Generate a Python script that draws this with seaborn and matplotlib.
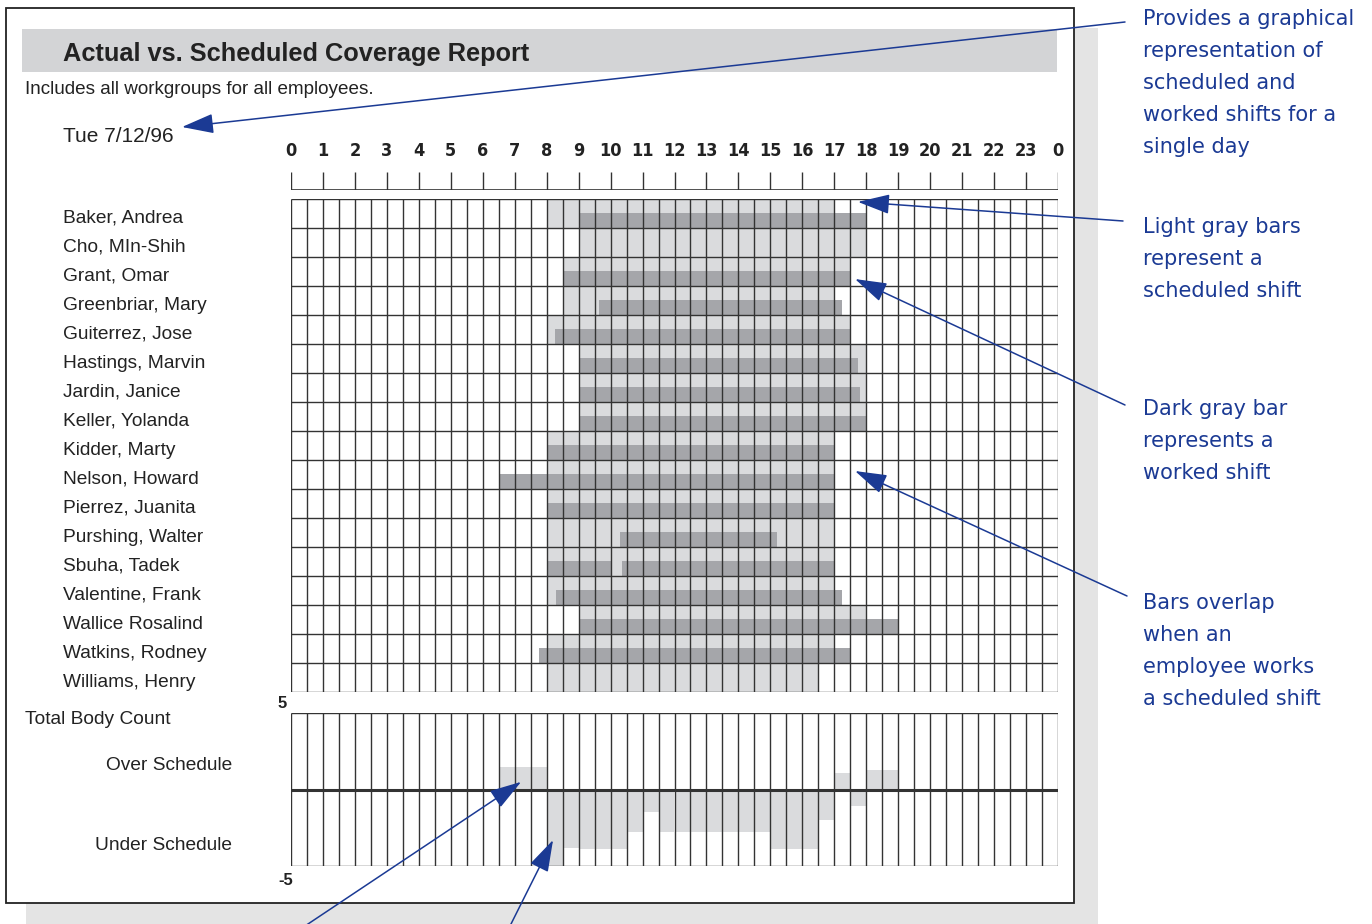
import matplotlib
matplotlib.use('Agg')
import matplotlib.pyplot as plt
import matplotlib.transforms as mtransforms
from matplotlib.patches import Rectangle
from matplotlib import font_manager
import numpy as np
import pandas as pd
import seaborn as sns

# ---- data ----
employees = ['Baker, Andrea', 'Cho, MIn-Shih', 'Grant, Omar', 'Greenbriar, Mary',
             'Guiterrez, Jose', 'Hastings, Marvin', 'Jardin, Janice', 'Keller, Yolanda',
             'Kidder, Marty', 'Nelson, Howard', 'Pierrez, Juanita', 'Purshing, Walter',
             'Sbuha, Tadek', 'Valentine, Frank', 'Wallice Rosalind', 'Watkins, Rodney',
             'Williams, Henry']

# scheduled shift (light gray), hours of the day
sched_start = [8.0, 9.0, 8.5, 8.5, 8.0, 9.0, 9.0, 9.0, 8.0, 8.0, 8.0, 8.0, 8.0, 8.0, 9.0, 8.0, 8.0]
sched_end = [17.0, 18.0, 17.5, 17.0, 17.5, 18.0, 18.0, 18.0, 17.0, 17.0, 17.0, 17.0, 17.0, 17.0, 18.0, 17.0, 16.5]

# worked shifts (dark gray), may be none or several per employee
worked_shifts = [
    [(9.0, 18.0)],
    [],
    [(8.5, 17.5)],
    [(9.65, 17.25)],
    [(8.25, 17.5)],
    [(9.0, 17.75)],
    [(9.0, 17.8)],
    [(9.0, 18.0)],
    [(8.0, 17.0)],
    [(6.5, 17.0)],
    [(8.0, 17.0)],
    [(10.3, 15.2)],
    [(8.0, 10.0), (10.35, 17.0)],
    [(8.3, 17.25)],
    [(9.0, 19.0)],
    [(7.75, 17.5)],
    [],
]

# total body count, one value per half hour from 0:00
body_count = [0, 0, 0, 0, 0, 0, 0, 0, 0, 0, 0, 0, 0,
              1.5, 1.5, 1.5,
              -5.0, -3.8, -3.9, -3.9, -3.9, -2.8, -1.5,
              -2.8, -2.8, -2.8, -2.8, -2.8, -2.8, -2.8,
              -3.9, -3.9, -3.9,
              -2.0, 1.1, -1.1, 1.25, 1.25,
              0, 0, 0, 0, 0, 0, 0, 0, 0, 0]

hour_labels = [str(h) for h in range(24)] + ['0']

# ---- style ----
W, H = 1372, 924
LIGHT = '#dadbdd'
DARK = '#a5a6aa'
GRID = '#333333'
BLUE = '#1b3a94'
INK = '#222222'

sns.set_style('white')
plt.rcParams['font.family'] = ['Liberation Sans', 'DejaVu Sans']

# narrow bold face for the hour row, if one is around
fonts = font_manager.fontManager.ttflist
if any(f.name == 'Liberation Sans Narrow' for f in fonts):
    hour_font = dict(family='Liberation Sans Narrow', size=14)
elif any(f.name == 'DejaVu Sans' and f.stretch == 'condensed' for f in fonts):
    hour_font = dict(family='DejaVu Sans', stretch='condensed', size=13)
else:
    hour_font = dict(family='Liberation Sans', size=12.5)


def box(x0, y0, x1, y1):
    return [x0 / W, 1 - y1 / H, (x1 - x0) / W, (y1 - y0) / H]


fig = plt.figure(figsize=(W / 100, H / 100), dpi=100)

# page background, shadow, title band
bg = fig.add_axes([0, 0, 1, 1], zorder=0)
bg.set_xlim(0, W)
bg.set_ylim(H, 0)
bg.axis('off')
bg.add_patch(Rectangle((26, 28), 1072, 900, color='#e4e4e4', lw=0))
bg.add_patch(Rectangle((6, 8), 1068, 895, facecolor='white', edgecolor=INK, lw=1.3))
bg.add_patch(Rectangle((22, 29), 1035, 43, color='#d3d4d6', lw=0))
bg.text(63, 54, 'Actual vs. Scheduled Coverage Report', fontsize=18.3, fontweight='bold',
        color=INK, va='center', ha='left')
bg.text(25, 90, 'Includes all workgroups for all employees.', fontsize=13.6,
        color=INK, va='center', ha='left')
bg.text(63, 137, 'Tue 7/12/96', fontsize=15, color=INK, va='center', ha='left')
bg.text(25, 720, 'Total Body Count', fontsize=13.8, color=INK, va='center', ha='left')
bg.text(232, 766, 'Over Schedule', fontsize=13.8, color=INK, va='center', ha='right')
bg.text(232, 846, 'Under Schedule', fontsize=13.8, color=INK, va='center', ha='right')

# hour header
hdr = fig.add_axes(box(291, 172, 1058, 190), zorder=1)
hdr.set_xlim(0, 24)
hdr.set_ylim(0, 1)
hdr.vlines(range(25), 0, 1, color=GRID, lw=1.0)
hdr.axhline(0, color=GRID, lw=1.2)
for s in hdr.spines.values():
    s.set_visible(False)
hdr.xaxis.tick_top()
hdr.set_xticks(range(25), labels=hour_labels)
hdr.tick_params(axis='x', length=0, pad=9)
hdr.set_yticks([])
for lab in hdr.get_xticklabels():
    lab.set_fontfamily([hour_font['family'], 'DejaVu Sans'])
    if 'stretch' in hour_font:
        lab.set_fontstretch(hour_font['stretch'])
    lab.set_fontweight('bold')
    lab.set_fontsize(hour_font['size'])
    lab.set_color(INK)

# schedule grid
ax = fig.add_axes(box(291, 199, 1058, 692), zorder=1)
n = len(employees)
for i in range(n):
    ax.barh(i, sched_end[i] - sched_start[i], left=sched_start[i], height=1.0,
            color=LIGHT, lw=0, zorder=1)
    for s, e in worked_shifts[i]:
        ax.barh(i + 0.24, e - s, left=s, height=0.5, color=DARK, lw=0, zorder=2)
ax.vlines(np.arange(0, 24.01, 0.5), -0.5, n - 0.5, color=GRID, lw=1.0, zorder=3)
ax.hlines(np.arange(-0.5, n, 1.0), 0, 24, color=GRID, lw=1.0, zorder=3)
ax.set_xlim(0, 24)
ax.set_ylim(n - 0.5, -0.5)
ax.axis('off')

name_tf = mtransforms.blended_transform_factory(fig.transFigure, ax.transData)
for i, name in enumerate(employees):
    ax.text(63 / W, i + 0.16, name, transform=name_tf, fontsize=13.8, color=INK,
            va='center', ha='left')

# total body count
bc = fig.add_axes(box(291, 713, 1058, 866), zorder=1)
df = pd.DataFrame({'hour': np.arange(0.25, 24, 0.5), 'count': body_count})
sns.barplot(data=df, x='hour', y='count', native_scale=True, width=1.0, color=LIGHT,
            saturation=1, linewidth=0, errorbar=None, ax=bc, zorder=1)
bc.vlines(np.arange(0, 24.01, 0.5), -5, 5, color=GRID, lw=1.0, zorder=3)
bc.hlines([-5, 5], 0, 24, color=GRID, lw=1.0, zorder=3)
bc.axhline(0, color='#333333', lw=2.2, zorder=4)
bc.set_xlim(0, 24)
bc.set_ylim(-5, 5)
bc.axis('off')
bc.text(-0.011, 1.06, '5', transform=bc.transAxes, fontsize=12, fontweight='bold',
        color=INK, ha='center', va='center')
bc.text(-0.007, -0.095, '-5', transform=bc.transAxes, fontsize=12, fontweight='bold',
        color=INK, ha='center', va='center')

# callouts
fg = fig.add_axes([0, 0, 1, 1], zorder=5)
fg.set_xlim(0, W)
fg.set_ylim(H, 0)
fg.axis('off')
fg.patch.set_alpha(0)

notes = [
    (17, ['Provides a graphical', 'representation of', 'scheduled and',
          'worked shifts for a', 'single day']),
    (225, ['Light gray bars', 'represent a', 'scheduled shift']),
    (407, ['Dark gray bar', 'represents a', 'worked shift']),
    (601, ['Bars overlap', 'when an', 'employee works', 'a scheduled shift']),
]
for y0, lines in notes:
    for k, line in enumerate(lines):
        fg.text(1143, y0 + 32 * k + 8, line, fontsize=15, color=BLUE,
                family=['DejaVu Sans'], va='baseline', ha='left')

arrow = dict(arrowstyle='-|>,head_length=0.9,head_width=0.28', color=BLUE, lw=1.1,
             mutation_scale=22, shrinkA=0, shrinkB=0)
fg.annotate('', xy=(182, 127), xytext=(1125, 22), arrowprops=arrow, annotation_clip=False)
fg.annotate('', xy=(17.74, -0.4), xycoords=ax.transData, xytext=(1123, 221),
            textcoords='data', arrowprops=arrow, annotation_clip=False)
fg.annotate('', xy=(17.65, 2.26), xycoords=ax.transData, xytext=(1125, 405),
            textcoords='data', arrowprops=arrow, annotation_clip=False)
fg.annotate('', xy=(17.65, 8.88), xycoords=ax.transData, xytext=(1127, 596),
            textcoords='data', arrowprops=arrow, annotation_clip=False)
fg.annotate('', xy=(7.2, 0.5), xycoords=bc.transData, xytext=(305, 926),
            textcoords='data', arrowprops=arrow, annotation_clip=False)
fg.annotate('', xy=(8.2, -3.3), xycoords=bc.transData, xytext=(510, 926),
            textcoords='data', arrowprops=arrow, annotation_clip=False)

fig.savefig('out.png', dpi=100)
